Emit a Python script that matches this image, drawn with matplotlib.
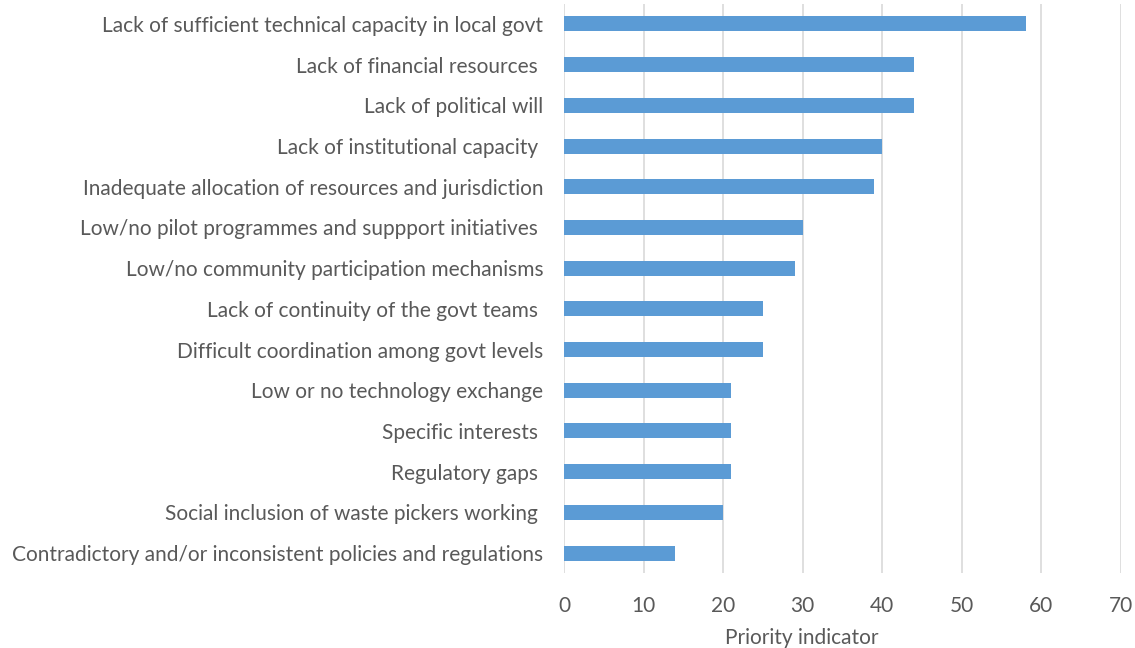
import matplotlib
matplotlib.use("Agg")
import matplotlib.pyplot as plt

categories = [
    "Lack of sufficient technical capacity in local govt",
    "Lack of financial resources ",
    "Lack of political will",
    "Lack of institutional capacity ",
    "Inadequate allocation of resources and jurisdiction",
    "Low/no pilot programmes and suppport initiatives ",
    "Low/no community participation mechanisms",
    "Lack of continuity of the govt teams ",
    "Difficult coordination among govt levels",
    "Low or no technology exchange",
    "Specific interests ",
    "Regulatory gaps ",
    "Social inclusion of waste pickers working ",
    "Contradictory and/or inconsistent policies and regulations",
]
values = [58, 44, 44, 40, 39, 30, 29, 25, 25, 21, 21, 21, 20, 14]
x_ticks = [0, 10, 20, 30, 40, 50, 60, 70]

plt.rcParams['font.family'] = ['Lato', 'DejaVu Sans']
text_color = "#595959"

fig = plt.figure(figsize=(11.35, 6.48), dpi=100)
ax = fig.add_axes([564 / 1135, 1 - 573.4 / 648, (1121 - 564) / 1135, (573.4 - 3.6) / 648])

pos = list(range(len(categories)))
ax.barh(pos, values, height=0.37, color="#5B9BD5", zorder=3)

ax.set_ylim(len(categories) - 0.5, -0.5)
ax.set_xlim(0, 70)
ax.set_xticks(x_ticks)
ax.set_yticks(pos)
ax.set_yticklabels(categories)

ax.grid(axis="x", color="#D9D9D9", linewidth=1.2, zorder=0)
for s in ax.spines.values():
    s.set_visible(False)
ax.tick_params(axis="both", length=0, colors=text_color, labelsize=15)
ax.tick_params(axis="x", pad=16)
ax.tick_params(axis="y", pad=15)
ax.set_xlabel("Priority indicator", color=text_color, fontsize=15, labelpad=8)
ax.xaxis.set_label_coords(0.427, -0.095)

fig.savefig("out.png", dpi=100)
